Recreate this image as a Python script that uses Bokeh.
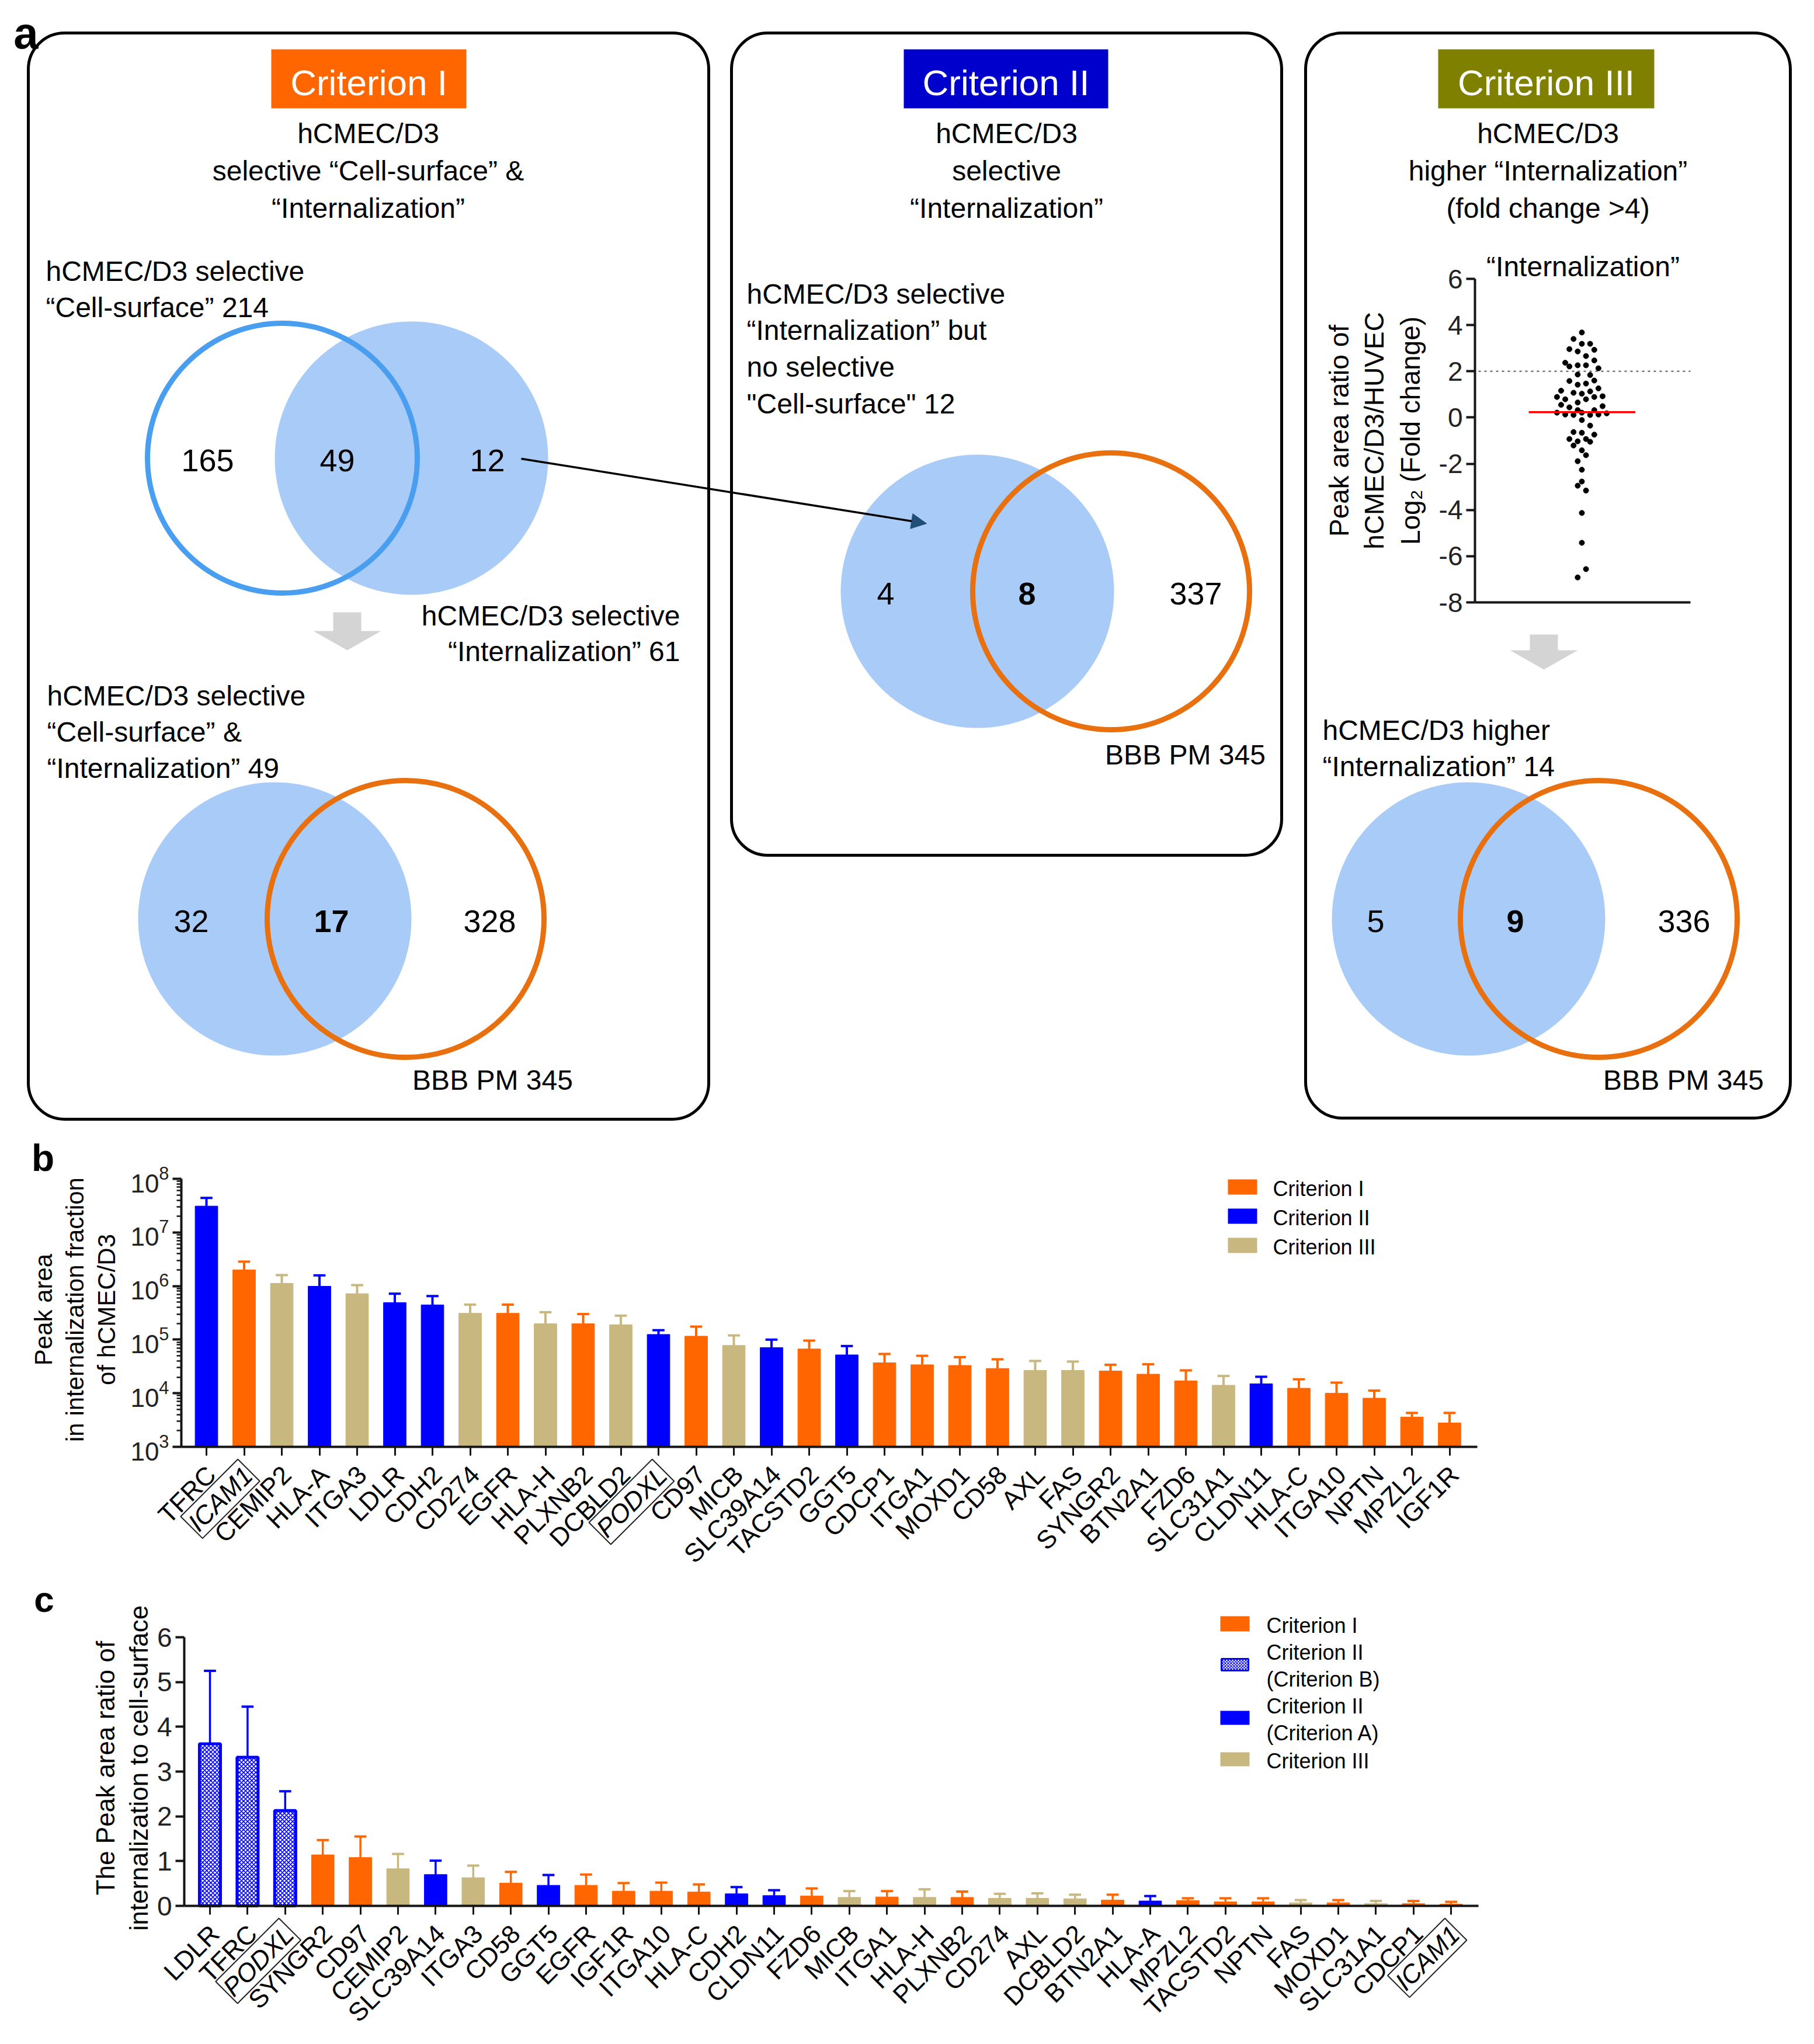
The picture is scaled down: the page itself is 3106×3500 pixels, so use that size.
import numpy as np
from bokeh.plotting import figure
from bokeh.models import (Range1d, LinearAxis, LogAxis, FixedTicker, LogScale,
                          ColumnDataSource, Arrow, NormalHead, PrintfTickFormatter)
from bokeh.core.properties import value
from bokeh.embed import file_html
from bokeh.resources import INLINE

# ======================= DATA =======================
# Panel a - Venn counts
venn_cs_int = [165, 49, 12]          # Cell-surface only / both / Internalization only
cell_surface_n = 214
internalization_n = 61
crit1_venn = [32, 17, 328]           # selected only / overlap with BBB PM / BBB PM only
crit1_n = 49
crit2_venn = [4, 8, 337]
crit2_n = 12
crit3_venn = [5, 9, 336]
crit3_n = 14
bbb_pm_n = 345

# Panel a - dot plot (log2 fold change, swarm column)
dot_log2fc = [3.68, 3.40, 3.19, 3.19, 2.96, 2.86, 2.93, 2.66, 2.47, 2.37,
              2.21, 2.26, 2.26, 2.13, 1.86, 1.84, 1.58, 1.42, 1.47, 1.60,
              1.16, 1.26, 1.07, 1.03, 1.13, 0.89, 0.79, 0.79, 0.89, 0.92,
              0.65, 0.55, 0.44, 0.49, 0.32, 0.32, 0.21, 0.13, 0.11, 0.21,
              0.11, 0.13, 0.18, -0.11, -0.35, -0.63, -0.66, -0.74, -0.93, -1.03,
              -0.93, -1.05, -1.21, -1.42, -1.63, -1.89, -2.26, -2.77, -2.95, -3.16,
              -4.13, -5.42, -6.56, -6.92]
dot_swarm = [0, -2, 0, 2, -3, -1, 3, 1, 3, -4,
             -3, -1, 1, 4, -1, 2, -3, -1, 1, 3,
             -5, 4, -2, 0, 2, -6, -4, 1, 3, 5,
             -1, -5, -3, 5, -1, 3, -6, -4, -2, 0,
             2, 4, 6, 0, 2, -2, 0, 3, -3, -1,
             1, 2, -2, 0, 1, -1, 0, 0, -1, 1,
             0, 0, 1, -1]
dot_median = 0.23
fc_threshold = 2
dot_ticks = [-8, -6, -4, -2, 0, 2, 4, 6]

# Panel b
b_genes = ["TFRC", "ICAM1", "CEMIP2", "HLA-A", "ITGA3", "LDLR", "CDH2", "CD274", "EGFR", "HLA-H",
           "PLXNB2", "DCBLD2", "PODXL", "CD97", "MICB", "SLC39A14", "TACSTD2", "GGT5", "CDCP1", "ITGA1",
           "MOXD1", "CD58", "AXL", "FAS", "SYNGR2", "BTN2A1", "FZD6", "SLC31A1", "CLDN11", "HLA-C",
           "ITGA10", "NPTN", "MPZL2", "IGF1R"]
b_crit = ["II", "I", "III", "II", "III", "II", "II", "III", "I", "III",
          "I", "III", "II", "I", "III", "II", "I", "II", "I", "I",
          "I", "I", "III", "III", "I", "I", "I", "III", "II", "I",
          "I", "I", "I", "I"]
b_mean = [3.1e7, 2.0e6, 1.12e6, 9.9e5, 7.2e5, 4.9e5, 4.45e5, 3.1e5, 3.1e5, 1.98e5,
          1.98e5, 1.89e5, 1.25e5, 1.16e5, 7.8e4, 7.1e4, 6.7e4, 5.2e4, 3.7e4, 3.4e4,
          3.3e4, 2.9e4, 2.67e4, 2.67e4, 2.6e4, 2.27e4, 1.7e4, 1.41e4, 1.5e4, 1.24e4,
          1.0e4, 8.1e3, 3.6e3, 2.8e3]
b_err_top = [4.4e7, 2.85e6, 1.6e6, 1.58e6, 1.04e6, 7.2e5, 6.5e5, 4.5e5, 4.5e5, 3.25e5,
             3.0e5, 2.8e5, 1.5e5, 1.75e5, 1.2e5, 1.0e5, 9.6e4, 7.6e4, 5.4e4, 5.0e4,
             4.7e4, 4.3e4, 4.0e4, 3.9e4, 3.4e4, 3.47e4, 2.67e4, 2.1e4, 2.03e4, 1.82e4,
             1.58e4, 1.12e4, 4.3e3, 4.3e3]
b_ticks = [1e3, 1e4, 1e5, 1e6, 1e7, 1e8]
b_boxed = ["ICAM1", "PODXL"]

# Panel c
c_genes = ["LDLR", "TFRC", "PODXL", "SYNGR2", "CD97", "CEMIP2", "SLC39A14", "ITGA3", "CD58", "GGT5",
           "EGFR", "IGF1R", "ITGA10", "HLA-C", "CDH2", "CLDN11", "FZD6", "MICB", "ITGA1", "HLA-H",
           "PLXNB2", "CD274", "AXL", "DCBLD2", "BTN2A1", "HLA-A", "MPZL2", "TACSTD2", "NPTN", "FAS",
           "MOXD1", "SLC31A1", "CDCP1", "ICAM1"]
c_crit = ["IIB", "IIB", "IIB", "I", "I", "III", "IIA", "III", "I", "IIA",
          "I", "I", "I", "I", "IIA", "IIA", "I", "III", "I", "III",
          "I", "III", "III", "III", "I", "IIA", "I", "I", "I", "III",
          "I", "III", "I", "I"]
c_mean = [3.62, 3.32, 2.13, 1.14, 1.08, 0.83, 0.70, 0.63, 0.51, 0.46,
          0.46, 0.33, 0.33, 0.31, 0.27, 0.23, 0.22, 0.19, 0.20, 0.19,
          0.19, 0.17, 0.17, 0.16, 0.13, 0.11, 0.12, 0.09, 0.09, 0.07,
          0.07, 0.05, 0.05, 0.04]
c_err_top = [5.25, 4.45, 2.56, 1.47, 1.55, 1.16, 1.01, 0.90, 0.76, 0.69,
             0.70, 0.51, 0.52, 0.48, 0.42, 0.35, 0.39, 0.33, 0.33, 0.37,
             0.32, 0.27, 0.28, 0.25, 0.25, 0.22, 0.17, 0.17, 0.17, 0.13,
             0.13, 0.11, 0.11, 0.09]
c_ticks = [0, 1, 2, 3, 4, 5, 6]
c_boxed = ["PODXL", "ICAM1"]

# ======================= STYLE / LAYOUT =======================
FONT_NAME = "Liberation Sans"
FONT = value(FONT_NAME)
ORANGE = "#FF6600"
BLUE = "#0000FF"
TAN = "#C8B77F"
CRIT_COLORS = {"I": ORANGE, "II": BLUE, "IIA": BLUE, "IIB": BLUE, "III": TAN}
VENN_FILL = "#A9CBF7"
VENN_BLUE = "#4A9EF0"
VENN_ORANGE = "#E8700F"
AXIS_COLOR = "#151515"

W, H = 3090, 3484
L0, R0, T0, B0 = 8, 8 + W, 8, 8 + H   # page pixel coordinates of the canvas

p = figure(width=W, height=H, x_range=Range1d(L0, R0), y_range=Range1d(B0, T0),
           x_axis_type=None, y_axis_type=None, output_backend="svg",
           toolbar_location=None, min_border=0)
p.outline_line_color = None
p.background_fill_color = "white"


def affine(p0, v0, p1, v1):
    k = (v1 - v0) / (p1 - p0)
    return lambda px: v0 + (px - p0) * k


# inset / panel placements (page pixels)
DOT_AX_X, DOT_X_END, DOT_CX, DOT_STEP, DOT_Y_TOP, DOT_Y_BOT = 2533, 2902, 2716, 7.1, 485, 1039
B_AX_X, B_X_END, B_X0, B_STEP, B_Y_LO, B_Y_HI = 318, 2537, 361, 64.5, 2485, 2026
C_AX_X, C_X_END, C_X0, C_STEP, C_Y_LO, C_Y_HI = 323, 2539, 367, 64.4, 3271, 2811

sw_x = affine(DOT_CX, 0, DOT_CX + DOT_STEP, 1)
sw_y = affine(DOT_Y_TOP, dot_ticks[-1], DOT_Y_BOT, dot_ticks[0])
b_x = affine(B_X0, 0, B_X0 + B_STEP, 1)
b_ly = affine(B_Y_LO, np.log10(b_ticks[0]), B_Y_HI, np.log10(b_ticks[-1]))
c_x = affine(C_X0, 0, C_X0 + C_STEP, 1)
c_y = affine(C_Y_LO, c_ticks[0], C_Y_HI, c_ticks[-1])

p.extra_x_ranges = {"swx": Range1d(sw_x(L0), sw_x(R0)),
                    "bx": Range1d(b_x(L0), b_x(R0)),
                    "cx": Range1d(c_x(L0), c_x(R0))}
p.extra_y_ranges = {"swy": Range1d(sw_y(B0), sw_y(T0)),
                    "by": Range1d(10 ** b_ly(B0), 10 ** b_ly(T0)),
                    "cy": Range1d(c_y(B0), c_y(T0))}
p.extra_y_scales = {"by": LogScale()}

TY = 6   # vertical nudge for horizontal text in panel a


def txt(x, y, s, size, align="left", style="normal", color="black", angle=0.0,
        baseline="middle", dy=0, **kw):
    src = ColumnDataSource(dict(x=list(x), y=[v + dy for v in y], text=list(s)))
    return p.text(x="x", y="y", text="text", source=src, text_font=FONT,
                  text_font_size=value(f"{size}px"), text_align=align,
                  text_baseline=baseline, text_font_style=style, text_color=color,
                  angle=angle, **kw)


def style_axis(ax, size):
    ax.axis_line_width = 4
    ax.axis_line_color = AXIS_COLOR
    ax.major_tick_line_width = 4
    ax.major_tick_line_color = AXIS_COLOR
    ax.major_tick_out = 15
    ax.major_tick_in = 0
    ax.minor_tick_in = 0
    ax.minor_tick_out = 0
    ax.major_label_text_font = FONT_NAME
    ax.major_label_text_font_size = f"{size}px"
    ax.major_label_text_color = "#222222"
    ax.major_label_standoff = 6


# ======================= PANEL a =======================
# rounded frames
p.quad(left=[56, 1260, 2243], right=[1221, 2202, 3073], top=[64, 64, 64],
       bottom=[1924, 1472, 1922], fill_color=None, line_color="black",
       line_width=5, border_radius=62)
# criterion headers
p.quad(left=[472, 1555, 2470], right=[806, 1905, 2840], top=[92] * 3, bottom=[193] * 3,
       fill_color=[ORANGE, "#0000CD", "#808000"], line_color=None)
txt([639, 1730, 2655], [143] * 3, ["Criterion I", "Criterion II", "Criterion III"], 62,
    align="center", color="white", dy=TY)
txt([52], [58], ["a"], 76, align="center", style="bold", dy=TY)

FS = 48
# box 1
txt([638] * 3, [230, 294, 358],
    ["hCMEC/D3", "selective \u201cCell-surface\u201d &", "\u201cInternalization\u201d"], FS,
    align="center", dy=TY)
txt([86, 86], [466, 528], ["hCMEC/D3 selective", f"\u201cCell-surface\u201d {cell_surface_n}"], FS, dy=TY)
txt([1172, 1172], [1056, 1117],
    ["hCMEC/D3 selective", f"\u201cInternalization\u201d {internalization_n}"], FS, align="right", dy=TY)
txt([88] * 3, [1193, 1255, 1317],
    ["hCMEC/D3 selective", "\u201cCell-surface\u201d &", f"\u201cInternalization\u201d {crit1_n}"], FS, dy=TY)
# box 2
txt([1731] * 3, [230, 294, 358], ["hCMEC/D3", "selective", "\u201cInternalization\u201d"], FS,
    align="center", dy=TY)
txt([1286] * 4, [505, 567, 630, 693],
    ["hCMEC/D3 selective", "\u201cInternalization\u201d but", "no selective",
     f"\"Cell-surface\"  {crit2_n}"], FS, dy=TY)
# box 3
txt([2658] * 3, [230, 294, 358],
    ["hCMEC/D3", "higher \u201cInternalization\u201d", "(fold change >4)"], FS, align="center", dy=TY)
txt([2718], [458], ["\u201cInternalization\u201d"], FS, align="center", dy=TY)
txt([2300, 2360, 2422], [745] * 3, ["Peak area ratio of", "hCMEC/D3/HUVEC", "Log\u2082 (Fold change)"],
    46, align="center", angle=np.pi / 2)
txt([2272, 2272], [1252, 1314], ["hCMEC/D3 higher", f"\u201cInternalization\u201d  {crit3_n}"], FS, dy=TY)
txt([851, 2037, 2890], [1851, 1294, 1851], [f"BBB PM {bbb_pm_n}"] * 3, FS, align="center", dy=TY)

# gray block arrows
def block_arrow(cx, top, tip, shaft_hw=24, head_hw=58, head_len=33):
    mid = tip - head_len
    return ([cx - shaft_hw, cx + shaft_hw, cx + shaft_hw, cx + head_hw, cx, cx - head_hw, cx - shaft_hw],
            [top, top, mid, mid, tip, mid, mid])

a1 = block_arrow(602, 1056, 1121)
a2 = block_arrow(2651, 1094, 1154)
p.patches(xs=[a1[0], a2[0]], ys=[a1[1], a2[1]], fill_color="#D4D4D4", line_color=None)

# Venn diagrams
p.circle(x=[712, 478, 1681, 2522], y=[792, 1581, 1020, 1581], radius=234,
         fill_color=VENN_FILL, line_color=None)
p.circle(x=[491], y=[792], radius=231, fill_color=None, line_color=VENN_BLUE, line_width=9)
p.circle(x=[702, 1910, 2745], y=[1581, 1020, 1581], radius=237, fill_color=None,
         line_color=VENN_ORANGE, line_width=9)

NS = 54
txt([363, 585, 842], [792] * 3, [str(v) for v in venn_cs_int], NS, align="center", dy=4)
txt([335, 846], [1581] * 2, [str(crit1_venn[0]), str(crit1_venn[2])], NS, align="center", dy=4)
txt([575], [1581], [str(crit1_venn[1])], NS, align="center", style="bold", dy=4)
txt([1524, 2055], [1020] * 2, [str(crit2_venn[0]), str(crit2_venn[2])], NS, align="center", dy=4)
txt([1766], [1020], [str(crit2_venn[1])], NS, align="center", style="bold", dy=4)
txt([2363, 2891], [1581] * 2, [str(crit3_venn[0]), str(crit3_venn[2])], NS, align="center", dy=4)
txt([2602], [1581], [str(crit3_venn[1])], NS, align="center", style="bold", dy=4)

p.add_layout(Arrow(end=NormalHead(size=26, fill_color="#1F4E79", line_color="#1F4E79", line_width=1),
                   x_start=900, y_start=793, x_end=1594, y_end=904,
                   line_color="black", line_width=3.5))

# dot plot inset
p.segment(x0=[sw_x(DOT_AX_X + 6)], y0=[fc_threshold], x1=[sw_x(DOT_X_END)], y1=[fc_threshold],
          line_color="#777777", line_width=2.5, line_dash="4 6",
          x_range_name="swx", y_range_name="swy")
p.scatter(x=dot_swarm, y=dot_log2fc, size=9, color="black",
          x_range_name="swx", y_range_name="swy")
p.segment(x0=[-12.8], y0=[dot_median], x1=[12.9], y1=[dot_median], line_color="red",
          line_width=3.5, x_range_name="swx", y_range_name="swy")
ax_dy = LinearAxis(y_range_name="swy", fixed_location=DOT_AX_X,
                   bounds=(dot_ticks[0], dot_ticks[-1]), ticker=FixedTicker(ticks=dot_ticks),
                   formatter=PrintfTickFormatter(format="%d"))
style_axis(ax_dy, 46)
p.add_layout(ax_dy, "left")
ax_dx = LinearAxis(x_range_name="swx", y_range_name="swy", fixed_location=dot_ticks[0],
                   bounds=(sw_x(DOT_AX_X), sw_x(DOT_X_END)), ticker=FixedTicker(ticks=[]))
style_axis(ax_dx, 40)
p.add_layout(ax_dx, "below")

# ======================= PANEL b =======================
txt([81], [1986], ["b"], 64, align="center", style="bold", dy=4)
b_idx = list(range(len(b_genes)))
b_col = [CRIT_COLORS[c] for c in b_crit]
src_b = ColumnDataSource(dict(x=b_idx, top=b_mean, err=b_err_top, color=b_col,
                              cl=[i - 0.16 for i in b_idx], cr=[i + 0.16 for i in b_idx]))
p.vbar(x="x", top="top", bottom=b_ticks[0], width=0.6, source=src_b, fill_color="color",
       line_color="color", x_range_name="bx", y_range_name="by")
p.segment(x0="x", y0="top", x1="x", y1="err", source=src_b, line_color="color", line_width=4,
          x_range_name="bx", y_range_name="by")
p.segment(x0="cl", y0="err", x1="cr", y1="err", source=src_b, line_color="color", line_width=4,
          x_range_name="bx", y_range_name="by")

ax_by = LogAxis(y_range_name="by", fixed_location=B_AX_X, bounds=(b_ticks[0], b_ticks[-1]),
                ticker=FixedTicker(ticks=b_ticks,
                                   minor_ticks=[k * 10 ** e for e in range(3, 8) for k in range(2, 10)]))
style_axis(ax_by, 44)
ax_by.minor_tick_out = 8
ax_by.minor_tick_line_width = 2.5
ax_by.minor_tick_line_color = AXIS_COLOR
p.add_layout(ax_by, "left")
ax_bx = LinearAxis(x_range_name="bx", y_range_name="by", fixed_location=b_ticks[0],
                   bounds=(b_x(B_AX_X), b_x(B_X_END)), ticker=FixedTicker(ticks=b_idx),
                   formatter=PrintfTickFormatter(format=""))
style_axis(ax_bx, 10)
ax_bx.major_tick_line_width = 3
p.add_layout(ax_bx, "below")

b_plain = [i for i, g in enumerate(b_genes) if g not in b_boxed]
b_box = [i for i, g in enumerate(b_genes) if g in b_boxed]
txt(b_plain, [b_ticks[0]] * len(b_plain), [b_genes[i] for i in b_plain], 44, align="right",
    angle=np.pi / 4, x_offset=8, y_offset=40, x_range_name="bx", y_range_name="by")
txt(b_box, [b_ticks[0]] * len(b_box), [b_genes[i] for i in b_box], 44, align="right",
    style="italic", angle=np.pi / 4, x_offset=8, y_offset=40, x_range_name="bx", y_range_name="by",
    border_line_color="#222222", border_line_width=2, padding=2)

txt([82, 136, 190], [2250] * 3, ["Peak area", "in internalization fraction", "of hCMEC/D3"], 42,
    align="center", angle=np.pi / 2)

# legend b
leg_b_y = [2040, 2090, 2140]
p.quad(left=[2110] * 3, right=[2160] * 3, top=[y - 13 for y in leg_b_y],
       bottom=[y + 13 for y in leg_b_y], fill_color=[ORANGE, BLUE, TAN], line_color=None)
txt([2187] * 3, leg_b_y, ["Criterion I", "Criterion II", "Criterion III"], 36, dy=3)

# ======================= PANEL c =======================
txt([83], [2742], ["c"], 62, align="center", style="bold", dy=4)
c_idx = list(range(len(c_genes)))
c_col = [CRIT_COLORS[c] for c in c_crit]
src_c = ColumnDataSource(dict(x=c_idx, top=c_mean, err=c_err_top, color=c_col,
                              cl=[i - 0.16 for i in c_idx], cr=[i + 0.16 for i in c_idx]))
solid = [i for i, c in enumerate(c_crit) if c != "IIB"]
hatched = [i for i, c in enumerate(c_crit) if c == "IIB"]
p.vbar(x=[c_idx[i] for i in solid], top=[c_mean[i] for i in solid], bottom=0, width=0.6,
       fill_color=[c_col[i] for i in solid], line_color=[c_col[i] for i in solid],
       x_range_name="cx", y_range_name="cy")
p.vbar(x=[c_idx[i] for i in hatched], top=[c_mean[i] for i in hatched], bottom=0, width=0.56,
       fill_color="white", line_color=BLUE, line_width=5, hatch_pattern="diagonal_cross",
       hatch_color=BLUE, hatch_scale=7, hatch_weight=1.6, x_range_name="cx", y_range_name="cy")
p.segment(x0="x", y0="top", x1="x", y1="err", source=src_c, line_color="color", line_width=3.5,
          x_range_name="cx", y_range_name="cy")
p.segment(x0="cl", y0="err", x1="cr", y1="err", source=src_c, line_color="color", line_width=4,
          x_range_name="cx", y_range_name="cy")

ax_cy = LinearAxis(y_range_name="cy", fixed_location=C_AX_X, bounds=(c_ticks[0], c_ticks[-1]),
                   ticker=FixedTicker(ticks=c_ticks))
style_axis(ax_cy, 46)
p.add_layout(ax_cy, "left")
ax_cx = LinearAxis(x_range_name="cx", y_range_name="cy", fixed_location=c_ticks[0],
                   bounds=(c_x(C_AX_X), c_x(C_X_END)), ticker=FixedTicker(ticks=c_idx),
                   formatter=PrintfTickFormatter(format=""))
style_axis(ax_cx, 10)
ax_cx.major_tick_line_width = 3
p.add_layout(ax_cx, "below")

c_plain = [i for i, g in enumerate(c_genes) if g not in c_boxed]
c_box = [i for i, g in enumerate(c_genes) if g in c_boxed]
txt(c_plain, [c_ticks[0]] * len(c_plain), [c_genes[i] for i in c_plain], 44, align="right",
    angle=np.pi / 4, x_offset=8, y_offset=40, x_range_name="cx", y_range_name="cy")
txt(c_box, [c_ticks[0]] * len(c_box), [c_genes[i] for i in c_box], 44, align="right",
    style="italic", angle=np.pi / 4, x_offset=8, y_offset=40, x_range_name="cx", y_range_name="cy",
    border_line_color="#222222", border_line_width=2, padding=2)

txt([188, 245], [3035] * 2, ["The Peak area ratio of", "internalization to cell-surface"], 44,
    align="center", angle=np.pi / 2)

# legend c
p.quad(left=[2097] * 3, right=[2147] * 3, top=[2775, 2937, 3008], bottom=[2801, 2961, 3032],
       fill_color=[ORANGE, BLUE, TAN], line_color=None)
p.quad(left=[2099], right=[2145], top=[2848], bottom=[2868], fill_color="white",
       line_color=BLUE, line_width=3, hatch_pattern="diagonal_cross", hatch_color=BLUE,
       hatch_scale=5, hatch_weight=1.2)
txt([2176] * 6, [2788, 2834, 2880, 2926, 2972, 3020],
    ["Criterion I", "Criterion II", "(Criterion B)", "Criterion II", "(Criterion A)", "Criterion III"],
    36, dy=3)

open("out.html", "w").write(file_html(p, INLINE))
